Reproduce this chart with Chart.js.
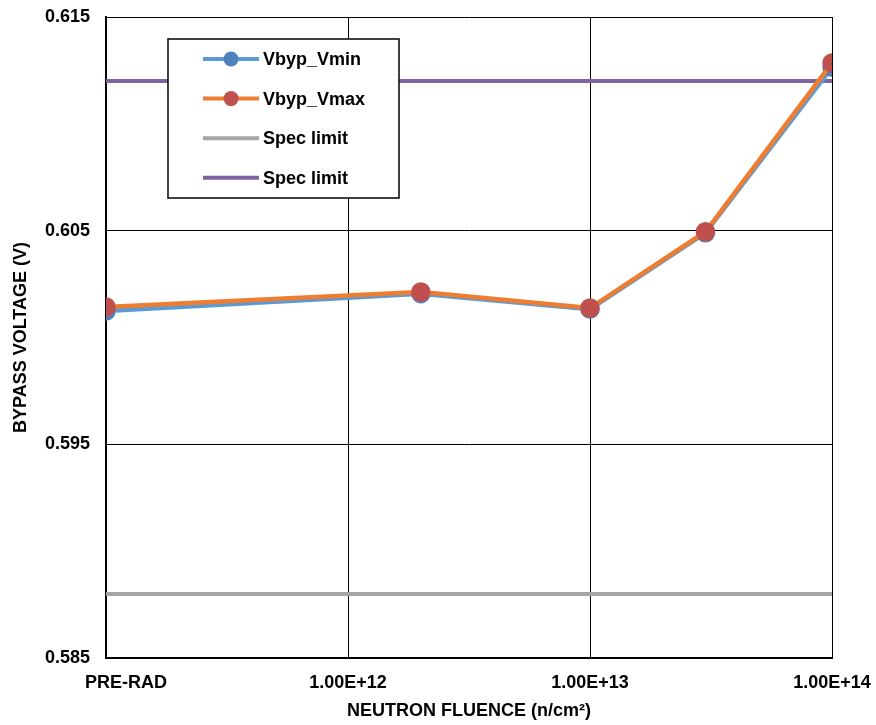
<!DOCTYPE html>
<html>
<head>
<meta charset="utf-8">
<script src="https://cdn.jsdelivr.net/npm/chart.js@4/dist/chart.umd.min.js"></script>
<style>
  html, body { margin: 0; padding: 0; background: #ffffff; }
  #wrap { width: 876px; height: 725px; position: relative; }
</style>
</head>
<body>
<div id="wrap"><canvas id="chart"></canvas></div>
<script>
// ---- data ----
// PRE-RAD is placed at 1e11 on the log axis
const fluence = [1e11, 2e12, 1e13, 3e13, 1e14];
const vbypVmin = [0.60124, 0.60205, 0.60133, 0.60490, 0.61265];
const vbypVmax = [0.60143, 0.60213, 0.60138, 0.60495, 0.61285];
const specLimitLow = [0.588, 0.588];
const specLimitHigh = [0.612, 0.612];
const specX = [1e11, 1e14];

const xTickValues = [1e11, 1e12, 1e13, 1e14];
const xTickLabels = ['PRE-RAD', '1.00E+12', '1.00E+13', '1.00E+14'];
const yTickValues = [0.585, 0.595, 0.605, 0.615];

const font = "'Liberation Sans', Arial, sans-serif";

Chart.defaults.font.family = font;
Chart.defaults.color = '#000';

const toPoints = (xs, ys) => xs.map((x, i) => ({ x: x, y: ys[i] }));

// legend box drawn inside the plot, Excel style
const boxLegend = {
    id: 'boxLegend',
    afterDraw(chart) {
        const ctx = chart.ctx;
        const left = 168, top = 39, w = 231, h = 159;
        ctx.save();
        ctx.fillStyle = '#fff';
        ctx.fillRect(left, top, w, h);
        ctx.strokeStyle = '#000';
        ctx.lineWidth = 1.5;
        ctx.strokeRect(left, top, w, h);
        ctx.font = 'bold 18px ' + font;
        ctx.textBaseline = 'middle';
        chart.data.datasets.forEach((ds, i) => {
            const y = 59 + i * 39.6;
            ctx.strokeStyle = ds.borderColor;
            ctx.lineWidth = 4;
            ctx.beginPath();
            ctx.moveTo(203, y);
            ctx.lineTo(259, y);
            ctx.stroke();
            if (ds.pointRadius > 0) {
                ctx.fillStyle = ds.pointBackgroundColor;
                ctx.beginPath();
                ctx.arc(231, y, 7.5, 0, Math.PI * 2);
                ctx.fill();
            }
            ctx.fillStyle = '#000';
            ctx.fillText(ds.label, 263, y + 1);
        });
        ctx.restore();
    }
};

new Chart(document.getElementById('chart'), {
    type: 'line',
    data: {
        datasets: [
            {
                label: 'Vbyp_Vmin',
                data: toPoints(fluence, vbypVmin),
                borderColor: '#5B9BD5',
                pointBackgroundColor: '#4F81BD',
                pointBorderColor: '#4F81BD',
                borderWidth: 4.5,
                pointRadius: 7.5,
                order: 2
            },
            {
                label: 'Vbyp_Vmax',
                data: toPoints(fluence, vbypVmax),
                borderColor: '#ED7D31',
                pointBackgroundColor: '#C0504D',
                pointBorderColor: '#C0504D',
                borderWidth: 4.5,
                pointRadius: 7.5,
                order: 1
            },
            {
                label: 'Spec limit',
                data: toPoints(specX, specLimitLow),
                borderColor: '#A5A5A5',
                borderWidth: 4,
                pointRadius: 0,
                order: 3
            },
            {
                label: 'Spec limit',
                data: toPoints(specX, specLimitHigh),
                borderColor: '#8064A2',
                borderWidth: 4,
                pointRadius: 0,
                order: 3
            }
        ]
    },
    options: {
        responsive: true,
        maintainAspectRatio: false,
        animation: false,
        layout: { padding: { left: 0, right: 44, top: 17, bottom: 0 } },
        plugins: {
            legend: { display: false },
            tooltip: { enabled: false }
        },
        scales: {
            x: {
                type: 'logarithmic',
                min: 1e11,
                max: 1e14,
                afterBuildTicks: (scale) => {
                    scale.ticks = xTickValues.map(v => ({ value: v }));
                },
                afterFit: (scale) => {
                    scale.height = 67;
                    scale.paddingLeft = 0;
                    scale.paddingRight = 0;
                },
                ticks: {
                    autoSkip: false,
                    maxRotation: 0,
                    padding: 14,
                    font: { size: 18, weight: 'bold' },
                    callback: (value) => {
                        const i = xTickValues.indexOf(value);
                        if (i < 0) return '';
                        // first label sits a little right of its gridline
                        return i === 0 ? ' '.repeat(8) + xTickLabels[i] : xTickLabels[i];
                    }
                },
                grid: { color: '#000', lineWidth: 1, drawTicks: false },
                border: { color: '#000', width: 2 },
                title: {
                    display: true,
                    text: 'NEUTRON FLUENCE (n/cm²)',
                    font: { size: 18, weight: 'bold' },
                    padding: { top: 4, bottom: 3 }
                }
            },
            y: {
                min: 0.585,
                max: 0.615,
                afterBuildTicks: (scale) => {
                    scale.ticks = yTickValues.map(v => ({ value: v }));
                },
                afterFit: (scale) => {
                    scale.width = 106;
                    scale.paddingTop = 0;
                    scale.paddingBottom = 0;
                },
                ticks: {
                    padding: 16,
                    font: { size: 18, weight: 'bold' },
                    callback: (value) => value.toFixed(3)
                },
                grid: { color: '#000', lineWidth: 1, drawTicks: false },
                border: { color: '#000', width: 2 },
                title: {
                    display: true,
                    text: 'BYPASS VOLTAGE (V)',
                    font: { size: 18, weight: 'bold' },
                    padding: { top: 10, bottom: 0 }
                }
            }
        }
    },
    plugins: [boxLegend]
});
</script>
</body>
</html>
